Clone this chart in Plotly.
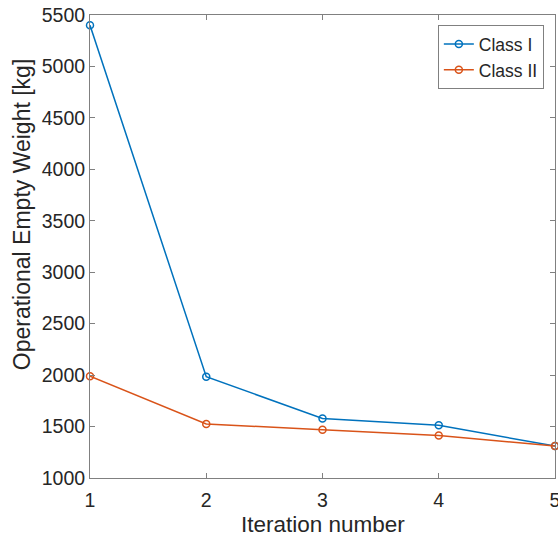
import plotly.graph_objects as go

iterations = [1, 2, 3, 4, 5]
class_i = [5400, 1985, 1578, 1512, 1311]
class_ii = [1990, 1525, 1470, 1412, 1311]
y_ticks = [1000, 1500, 2000, 2500, 3000, 3500, 4000, 4500, 5000, 5500]

blue = "#0072BD"
orange = "#D95319"
axis_col = "#808080"
text_col = "#262626"
font = "Liberation Sans, Arial, sans-serif"

fig = go.Figure()
fig.add_trace(go.Scatter(x=iterations, y=class_i, mode="lines+markers", name="Class I",
                         line=dict(color=blue, width=1.5),
                         marker=dict(symbol="circle-open", size=7, color=blue, line=dict(width=1.5)),
                         cliponaxis=False))
fig.add_trace(go.Scatter(x=iterations, y=class_ii, mode="lines+markers", name="Class II",
                         line=dict(color=orange, width=1.5),
                         marker=dict(symbol="circle-open", size=7, color=orange, line=dict(width=1.5)),
                         cliponaxis=False))

fig.update_layout(
    width=558, height=537,
    margin=dict(l=90, r=3, t=15, b=59, autoexpand=False),
    paper_bgcolor="white", plot_bgcolor="white",
    font=dict(family=font, size=19.5, color=text_col),
    showlegend=True,
    legend=dict(x=0.976, y=0.978, xanchor="right", yanchor="top",
                bordercolor=axis_col, borderwidth=1, bgcolor="white",
                font=dict(size=17.5), tracegroupgap=0, itemwidth=30),
    xaxis=dict(range=[1, 5], tickvals=iterations, ticks="inside", ticklen=5,
               tickcolor=axis_col, showline=True, linecolor=axis_col, linewidth=1,
               mirror="allticks", showgrid=False, zeroline=False, automargin=False,
               ticklabeloverflow="allow", ticklabelstandoff=5,
               tickfont=dict(size=19.5)),
    yaxis=dict(range=[1000, 5500], tickvals=y_ticks, ticks="inside", ticklen=5,
               tickcolor=axis_col, showline=True, linecolor=axis_col, linewidth=1,
               mirror="allticks", showgrid=False, zeroline=False, automargin=False,
               ticklabeloverflow="allow",
               tickfont=dict(size=19.5)),
    annotations=[
        dict(text="Iteration number", xref="paper", yref="paper", x=0.5, y=-0.1,
             xanchor="center", yanchor="middle", showarrow=False,
             font=dict(size=22.5, color=text_col)),
        dict(text="Operational Empty Weight [kg]", xref="paper", yref="paper",
             x=-0.146, y=0.570, xanchor="center", yanchor="middle", textangle=-90,
             showarrow=False, font=dict(size=23, color=text_col)),
    ],
)

fig.write_html("out.html", config={"displayModeBar": False},
               post_script="document.body.style.margin='0';document.body.style.overflow='hidden';")
